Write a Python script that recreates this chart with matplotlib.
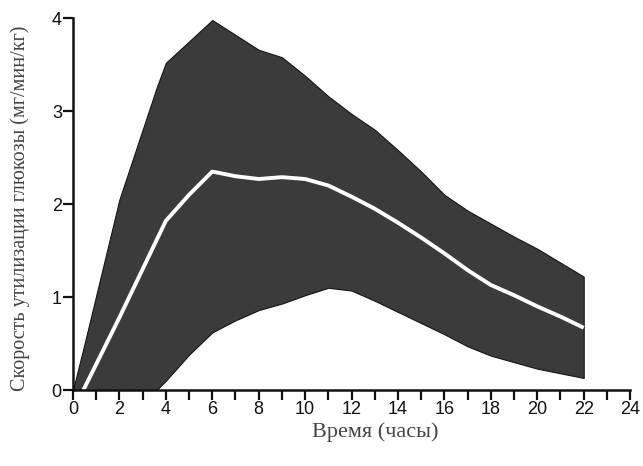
import numpy as np
import matplotlib
matplotlib.use("Agg")
import matplotlib.pyplot as plt
from matplotlib import font_manager

# hours and values
hours = [0, 0.5, 2, 3.6, 4, 5, 6, 7, 8, 9, 10, 11, 12, 13, 14, 15, 16, 17, 18, 19, 20, 21, 22]
upper = [0, 0.5, 2.05, 3.25, 3.52, 3.75, 3.98, 3.82, 3.66, 3.58, 3.38, 3.16, 2.97, 2.8, 2.58,
         2.35, 2.1, 1.93, 1.79, 1.65, 1.52, 1.37, 1.22]
lower = [0, 0, 0, 0, 0.1, 0.38, 0.62, 0.75, 0.86, 0.93, 1.02, 1.1, 1.07, 0.96, 0.84,
         0.72, 0.6, 0.47, 0.37, 0.3, 0.23, 0.18, 0.13]
mean_hours = [0.45, 2, 4, 5, 6, 7, 8, 9, 10, 11, 12, 13, 14, 15, 16, 17, 18, 19, 20, 21, 22]
mean = [0, 0.78, 1.82, 2.1, 2.35, 2.3, 2.27, 2.29, 2.27, 2.2, 2.08, 1.95, 1.8, 1.64, 1.47,
        1.29, 1.13, 1.02, 0.9, 0.79, 0.67]

names = {f.name for f in font_manager.fontManager.ttflist}
tick_font = "Liberation Sans Narrow" if "Liberation Sans Narrow" in names else "Liberation Sans"

fig = plt.figure(figsize=(6.43, 4.66), dpi=100)
ax = fig.add_axes([0.1135, 0.163, 0.8665, 0.798])

ax.fill_between(hours, lower, upper, color="#3b3b3b", edgecolor="#151515", linewidth=0.8)
ax.plot(mean_hours, mean, color="white", linewidth=2.8, solid_capstyle="butt")

ax.set_xlim(0, 24)
ax.set_ylim(0, 4)
ax.set_xticks(range(0, 25, 2))
ax.set_xticks(range(1, 24, 2), minor=True)
ax.set_yticks(range(0, 5))

for s in ["top", "right"]:
    ax.spines[s].set_visible(False)
for s in ["left", "bottom"]:
    ax.spines[s].set_linewidth(1.8)
    ax.spines[s].set_color("#111111")

ax.tick_params(axis="both", which="both", direction="out", length=7, width=1.6, colors="#111111")
for lab in ax.get_xticklabels() + ax.get_yticklabels():
    lab.set_fontfamily(tick_font)
    lab.set_fontsize(13)
    lab.set_color("#111111")
ax.tick_params(axis="x", pad=1)
ax.tick_params(axis="y", pad=1)

fig.text(0.031, 0.554, "Скорость утилизации глюкозы (мг/мин/кг)", rotation=90,
         ha="center", va="center", family="Liberation Serif", fontsize=14.5, color="#444444")
fig.text(0.583, 0.073, "Время (часы)", ha="center", va="center",
         family="Liberation Serif", fontsize=16, color="#444444")

fig.savefig("out.png", dpi=100)
